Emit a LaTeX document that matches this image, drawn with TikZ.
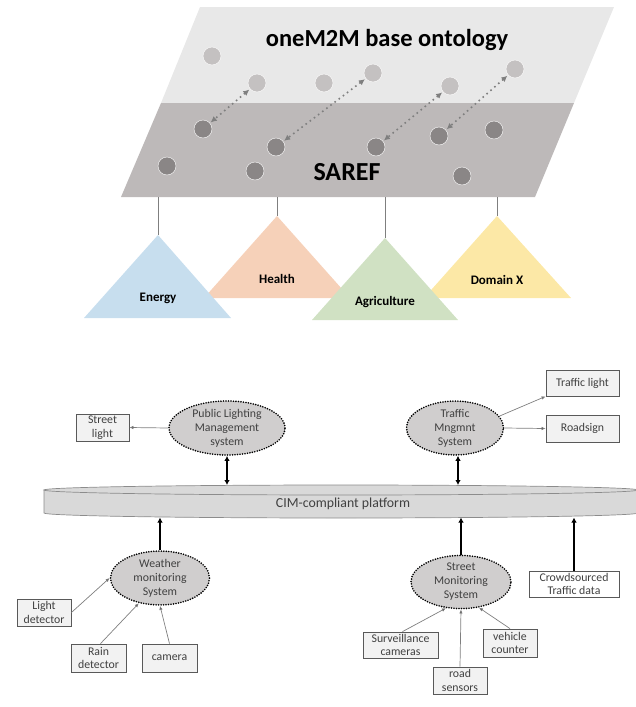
\documentclass[tikz,border=0pt]{standalone}
\usepackage{fontspec}
\setmainfont{Carlito}
\usetikzlibrary{shapes.geometric,arrows.meta}
\definecolor{topplane}{HTML}{E8E8E8}
\definecolor{botplane}{HTML}{BDB9B9}
\definecolor{lightdot}{HTML}{C4C1C1}
\definecolor{darkdot}{HTML}{8A8686}
\definecolor{dotline}{HTML}{7F7F7F}
\definecolor{energyc}{HTML}{C7DEEE}
\definecolor{healthc}{HTML}{F6D1B9}
\definecolor{agric}{HTML}{D0E1C3}
\definecolor{domxc}{HTML}{FCE8A6}
\definecolor{txt}{HTML}{404040}
\definecolor{boxline}{HTML}{595959}
\definecolor{boxfill}{HTML}{F2F2F2}
\definecolor{sysfill}{HTML}{D0CECE}
\definecolor{platfill}{HTML}{D9D9D9}
\definecolor{platline}{HTML}{8C8C8C}
\tikzset{
  ldot/.style={circle, fill=lightdot, draw=white, line width=0.4pt, minimum size=18pt, inner sep=0},
  ddot/.style={circle, fill=darkdot, draw=white, line width=0.4pt, minimum size=18pt, inner sep=0},
  maplink/.style={draw=dotline, line width=1.6pt, dash pattern=on 1.6pt off 3.6pt,
    {Latex[length=6pt,width=6pt,fill=dotline]}-{Latex[length=6pt,width=6pt,fill=dotline]}, shorten <=1pt, shorten >=1pt},
  hang/.style={draw=dotline, line width=0.8pt},
  domlabel/.style={font=\bfseries\fontsize{13}{15}\selectfont, text=black},
  box/.style={draw=boxline, fill=boxfill, line width=0.8pt, inner sep=0, align=center,
    font=\fontsize{11.8}{13.5}\selectfont, text=txt},
  sys/.style={ellipse, draw=black, fill=sysfill, line width=1.8pt, dash pattern=on 0pt off 2.5pt,
    line cap=round, inner sep=0, align=center, font=\fontsize{11.8}{14}\selectfont, text=txt},
  thin/.style={draw=dotline, line width=0.7pt, -{Latex[length=4pt,width=3.5pt,fill=black]}},
  thick/.style={draw=black, line width=2pt, -{Latex[length=5pt,width=5.5pt]}},
  dthick/.style={draw=black, line width=2pt, {Latex[length=5pt,width=5.5pt]}-{Latex[length=5pt,width=5.5pt]}}
}
\begin{document}
\begin{tikzpicture}[x=1pt,y=-1pt]
\useasboundingbox (0,0) rectangle (636,707);
% ---------- ontology planes ----------
\fill[topplane] (200,7) -- (614,7) -- (574,103) -- (161,103) -- cycle;
\fill[botplane] (161,103) -- (574,103) -- (535,197) -- (121,197) -- cycle;
\node[font=\bfseries\fontsize{24.5}{28}\selectfont] (m2m) at (387,40) {oneM2M base ontology};
\node[font=\bfseries\fontsize{26}{30}\selectfont] (saref) at (347,172) {SAREF};
% light circles
\node[ldot] (u1) at (212,56) {};
\node[ldot] (u2) at (257,83) {};
\node[ldot] (u3) at (324,83) {};
\node[ldot] (u4) at (373,73) {};
\node[ldot] (u5) at (450,86) {};
\node[ldot] (u6) at (515,69) {};
% dark circles
\node[ddot] (d1) at (203,129) {};
\node[ddot] (d2) at (276,147) {};
\node[ddot] (d3) at (376,147) {};
\node[ddot] (d4) at (439,136) {};
\node[ddot] (d5) at (494,130) {};
\node[ddot] (d6) at (167,166) {};
\node[ddot] (d7) at (255,171) {};
\node[ddot] (d8) at (462,176) {};
\draw[maplink] (u2) -- (d1);
\draw[maplink] (u4) -- (d2);
\draw[maplink] (u5) -- (d3);
\draw[maplink] (u6) -- (d4);
% ---------- domain triangles ----------
\coordinate (aE) at (158,235);
\coordinate (aH) at (277,216);
\coordinate (aA) at (385,238);
\coordinate (aD) at (497,216);
\fill[healthc] (aH) -- (204,298) -- (350,298) -- cycle;
\fill[domxc] (aD) -- (424,298) -- (571,298) -- cycle;
\fill[energyc] (aE) -- (84,318) -- (231,318) -- cycle;
\fill[agric] (aA) -- (312,320) -- (458,320) -- cycle;
\draw[hang] (aE |- 0,197) -- (aE);
\draw[hang] (aH |- 0,197) -- (aH);
\draw[hang] (aA |- 0,197) -- (aA);
\draw[hang] (aD |- 0,197) -- (aD);
\node[domlabel] (lE) at (158,298) {Energy};
\node[domlabel] (lH) at (277,279) {Health};
\node[domlabel] (lA) at (385,302) {Agriculture};
\node[domlabel] (lD) at (497,280) {Domain X};
% ---------- platform ----------
\filldraw[fill=platfill, draw=platline, line width=0.7pt]
  (44,490) -- (44,513) .. controls (44,515.76) and (177,518) .. (341,518)
  .. controls (505,518) and (638,515.76) .. (638,513) -- (638,490) -- cycle;
\filldraw[fill=platfill, draw=platline, line width=0.7pt] (341,490) ellipse [x radius=297pt, y radius=5pt];
\node[font=\fontsize{13.8}{15}\selectfont, text=txt] (plat) at (343,504) {CIM-compliant platform};
\coordinate (ptop) at (0,485);
\coordinate (pbot) at (0,517.5);
% ---------- systems ----------
\node[sys, minimum width=116pt, minimum height=54pt] (plms) at (227,428) {Public Lighting\\Management\\system};
\node[sys, minimum width=97pt, minimum height=53pt] (tms) at (455,428) {Traffic\\Mngmnt\\System};
\node[sys, minimum width=99pt, minimum height=52pt] (wms) at (160,578) {Weather\\monitoring\\System};
\node[sys, minimum width=100pt, minimum height=53pt] (sms) at (461,582) {Street\\Monitoring\\System};
% ---------- boxes ----------
\node[box, minimum width=53pt, minimum height=27pt] (slight) at (102.5,427.5) {Street\\light};
\node[box, minimum width=73pt, minimum height=26pt] (tlight) at (582.5,383) {Traffic light};
\node[box, minimum width=73pt, minimum height=27pt] (rsign) at (582.5,428.5) {Roadsign};
\node[box, minimum width=54pt, minimum height=27pt] (ldet) at (44,612.5) {Light\\detector};
\node[box, minimum width=55pt, minimum height=28pt] (rdet) at (98.5,658) {Rain\\detector};
\node[box, minimum width=55pt, minimum height=28pt] (cam) at (169.5,658) {camera};
\node[box, minimum width=90pt, minimum height=26pt, fill=white] (crowd) at (574,584) {Crowdsourced\\Traffic data};
\node[box, minimum width=75pt, minimum height=26pt] (surv) at (400.5,645) {Surveillance\\cameras};
\node[box, minimum width=54pt, minimum height=27pt] (rsens) at (460,680.5) {road\\sensors};
\node[box, minimum width=54pt, minimum height=28pt] (vcount) at (510,643) {vehicle\\counter};
% ---------- connectors ----------
\draw[thin] (plms.west) -- (slight.east);
\draw[thin] (tms.15) -- (tlight.south west);
\draw[thin] (tms.east) -- (rsign.west);
\draw[dthick] (plms.south) -- (plms.south |- ptop);
\draw[dthick] ([xshift=3pt]tms.south) -- ([xshift=3pt]tms.south |- ptop);
\draw[thick] (wms.north) -- (wms.north |- pbot);
\draw[thick] (sms.north) -- (sms.north |- pbot);
\draw[thick] (crowd.north) -- (crowd.north |- pbot);
\draw[thin] (ldet.east) -- (wms.west);
\draw[thin] ([xshift=2pt]rdet.north) -- (wms.230);
\draw[thin] (cam.north) -- (wms.south);
\draw[thin] ([xshift=2pt]surv.north) -- (sms.240);
\draw[thin] (rsens.north) -- (sms.south);
\draw[thin] (vcount.north) -- (sms.305);
\end{tikzpicture}
\end{document}
